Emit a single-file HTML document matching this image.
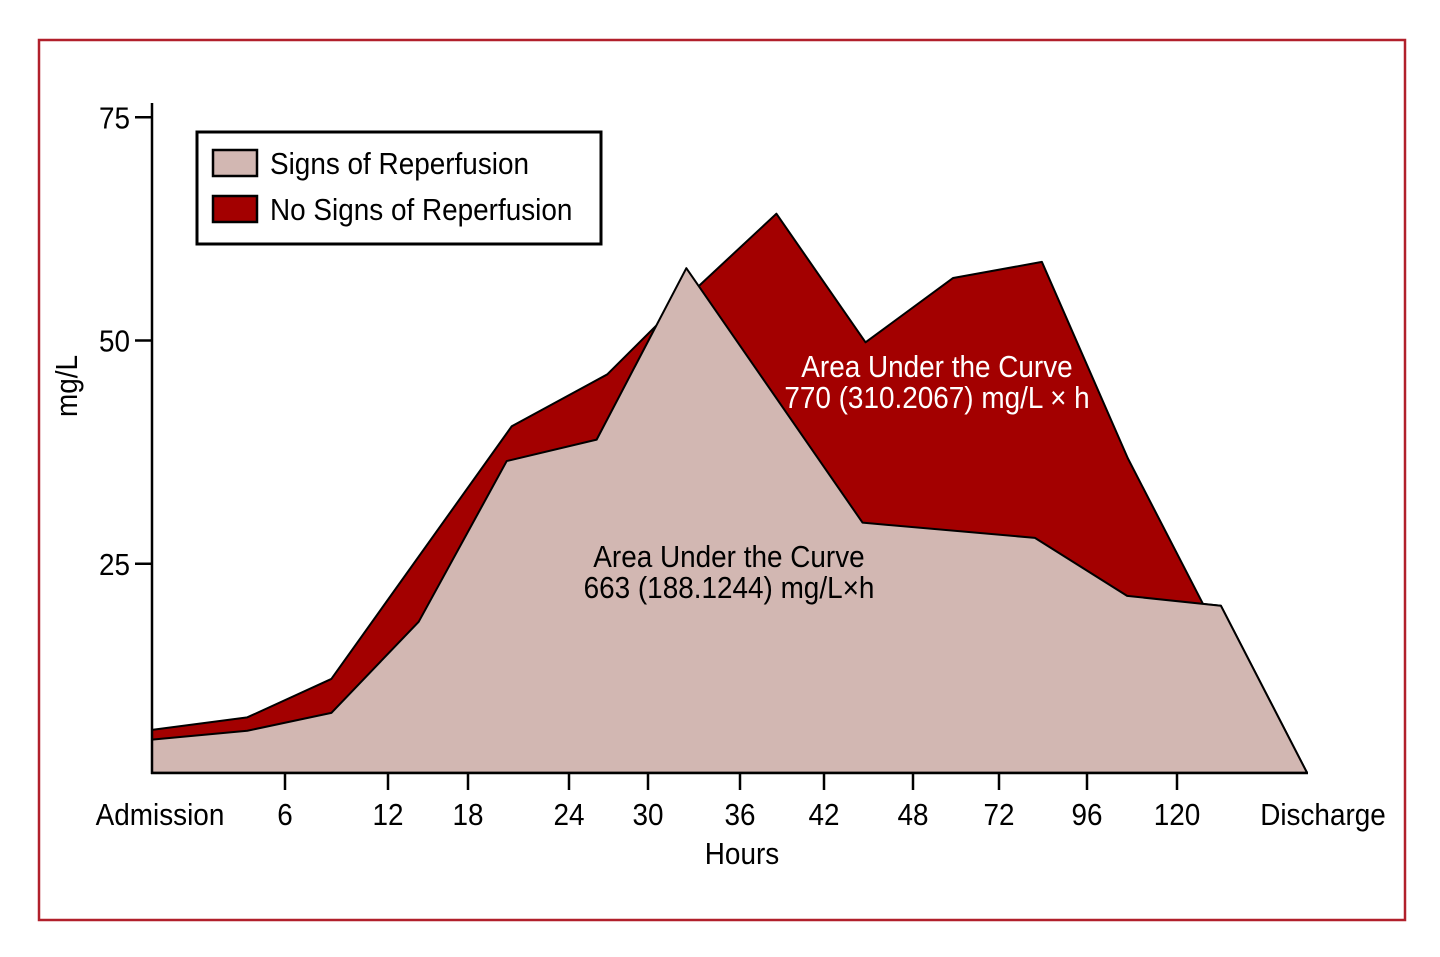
<!DOCTYPE html>
<html><head><meta charset="utf-8"><style>
html,body{margin:0;padding:0;background:#fff;}
svg text{font-family:"Liberation Sans Narrow","Liberation Sans",sans-serif;}
</style></head><body>
<svg id="chart" width="1440" height="952" viewBox="0 0 1440 952">
<rect x="39" y="40" width="1366" height="880" fill="none" stroke="#b1202b" stroke-width="2.5"/>
<g id="plot"></g>
</svg>
<script>
const tickHours=[0,6,12,18,24,30,36,42,48,72,96,120,144];
const tickLabels=["Admission","6","12","18","24","30","36","42","48","72","96","120","Discharge"];
const yTicks=[25,50,75];
const redHours=[0,4.3,8.7,20.6,26.9,30.5,38.6,44.8,59.2,83.7,106.9,124.8,128.1,144];
const redValues=[6.4,7.8,12.1,40.4,46.2,51.6,64.2,49.8,57.0,58.8,36.8,20.5,20.3,1.6];
const pinkHours=[0,4.3,8.7,14.3,20.3,26.1,32.5,44.6,81.8,106.7,128.1,144];
const pinkValues=[5.3,6.3,8.3,18.5,36.5,38.9,58.1,29.6,27.9,21.4,20.3,1.6];
const tickPx=[152,285,388,468,569,648,740,824,913,999,1087,1177,1307];
const yBase=1.6;
function xs(h){
  for(let i=0;i<tickHours.length-1;i++){
    if(h<=tickHours[i+1]){const t=(h-tickHours[i])/(tickHours[i+1]-tickHours[i]);return tickPx[i]+t*(tickPx[i+1]-tickPx[i]);}
  }
  return tickPx[tickPx.length-1];
}
function ys(v){return 787-v*8.93;}
const NS="http://www.w3.org/2000/svg";
const g=document.getElementById('plot');
function mk(tag,attrs,txt){const e=document.createElementNS(NS,tag);for(const k in attrs)e.setAttribute(k,attrs[k]);if(txt!=null)e.textContent=txt;g.appendChild(e);return e;}
function poly(hs,vs){let p=hs.map((h,i)=>xs(h)+","+ys(vs[i]));p.push(xs(hs[hs.length-1])+","+ys(yBase));p.push(xs(hs[0])+","+ys(yBase));return p.join(" ");}
const red=mk('polygon',{points:poly(redHours,redValues),fill:'#a30000',stroke:'#000','stroke-width':2,'stroke-linejoin':'round'});


const pink=mk('polygon',{points:poly(pinkHours,pinkValues),fill:'#d2b7b2',stroke:'#000','stroke-width':2,'stroke-linejoin':'round'});


const ya=mk('line',{x1:152,y1:103,x2:152,y2:774,stroke:'#000','stroke-width':2.5});


const xa=mk('line',{x1:151,y1:773,x2:1308,y2:773,stroke:'#000','stroke-width':2.5});


yTicks.forEach(v=>{
  const t=mk('line',{x1:135,y1:ys(v),x2:152,y2:ys(v),stroke:'#000','stroke-width':2.5});
  
  
  const l=mk('text',{x:130,y:ys(v)+11,'text-anchor':'end','font-size':31},String(v));
  
  
});
tickHours.forEach((h,i)=>{
  if(i>0&&i<tickHours.length-1){
    const t=mk('line',{x1:xs(h),y1:773,x2:xs(h),y2:790,stroke:'#000','stroke-width':2.5});
    
    
  }
  let x=xs(h); if(i===0)x=160; if(i===tickHours.length-1)x=1323;
  const l=mk('text',{x:x,y:825,'text-anchor':'middle','font-size':31},tickLabels[i]);
  
  
});
const xt=mk('text',{x:742,y:864,'text-anchor':'middle','font-size':31},'Hours');


const yt=mk('text',{x:0,y:0,'text-anchor':'middle','font-size':31,transform:'translate(77,386) rotate(-90)'},'mg/L');


const a1=mk('text',{x:937,y:377,'text-anchor':'middle','font-size':31,fill:'#fff'},'Area Under the Curve');


const a2=mk('text',{x:937,y:408,'text-anchor':'middle','font-size':31,fill:'#fff'},'770 (310.2067) mg/L × h');


const b1=mk('text',{x:729,y:567,'text-anchor':'middle','font-size':31,fill:'#000'},'Area Under the Curve');


const b2=mk('text',{x:729,y:598,'text-anchor':'middle','font-size':31,fill:'#000'},'663 (188.1244) mg/L×h');


const lg=mk('rect',{x:197,y:132,width:404,height:112,fill:'#fff',stroke:'#000','stroke-width':3});


const s1=mk('rect',{x:213,y:150,width:44,height:26,fill:'#d2b7b2',stroke:'#000','stroke-width':2.5});


const l1=mk('text',{x:270,y:174,'font-size':31},'Signs of Reperfusion');


const s2=mk('rect',{x:213,y:196,width:44,height:26,fill:'#a30000',stroke:'#000','stroke-width':2.5});


const l2=mk('text',{x:270,y:220,'font-size':31},'No Signs of Reperfusion');


document.querySelectorAll('#plot text').forEach(t=>{
  const w=t.getComputedTextLength();
  if(w>0){t.setAttribute('textLength',(w*0.9).toFixed(1));t.setAttribute('lengthAdjust','spacingAndGlyphs');}
});
</script>
</body></html>
